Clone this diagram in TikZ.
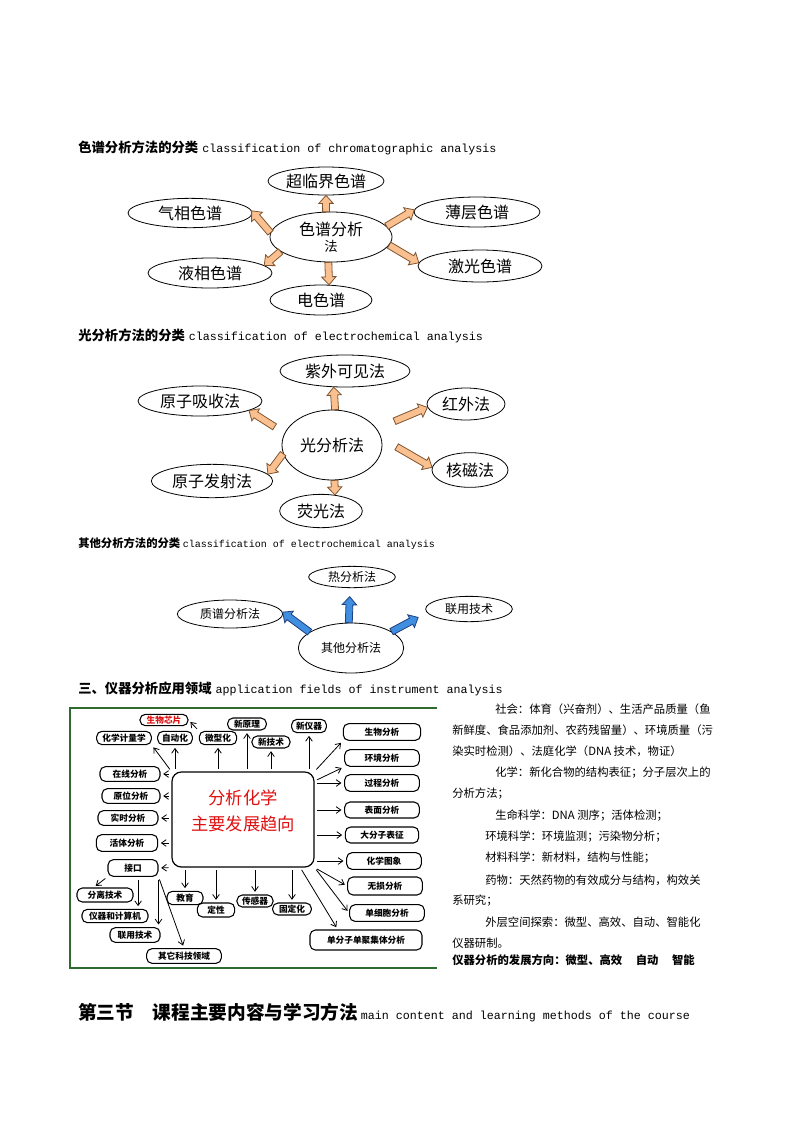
\documentclass[tikz,border=0pt]{standalone}
\usepackage{fontspec}
\setmainfont{Noto Sans CJK SC}
\setmonofont{Liberation Mono}
\usepackage{xcolor}
\usepackage{tikz}
\usetikzlibrary{shapes, arrows.meta, positioning, calc}

\definecolor{peach}{HTML}{FAC08F}
\definecolor{peachedge}{HTML}{7F5530}
\definecolor{skyfill}{HTML}{3F8EDF}
\definecolor{skyedge}{HTML}{1F3F7F}
\definecolor{boxgreen}{HTML}{2F6B2F}
\definecolor{trendred}{HTML}{E01010}

\newcommand\fs[2]{\fontsize{#1}{#2}\selectfont}
% block arrow: [style]{tail}{tip}
\newcommand\blockarrow[3][]{%
  \coordinate (ba-t) at (#2);
  \coordinate (ba-h) at (#3);
  \coordinate (ba-b) at ($(ba-h)!6pt!(ba-t)$);
  \filldraw[line width=0.6pt, #1] ($(ba-t)!2.6pt!90:(ba-h)$) -- ($(ba-b)!2.6pt!-90:(ba-t)$)
    -- ($(ba-b)!5.4pt!-90:(ba-t)$) -- (ba-h) -- ($(ba-b)!5.4pt!90:(ba-t)$)
    -- ($(ba-b)!2.6pt!90:(ba-t)$) -- ($(ba-t)!2.6pt!-90:(ba-h)$) -- cycle;}

\begin{document}
\begin{tikzpicture}[x=0.75pt, y=-0.75pt,
    oval/.style={ellipse, draw, line width=0.6pt, inner sep=0pt, font=\fs{12}{14}},
    smalloval/.style={oval, font=\fs{9}{11}},
    warm/.style={fill=peach, draw=peachedge},
    cool/.style={fill=skyfill, draw=skyedge},
    heading/.style={anchor=west, inner sep=0pt, font=\bfseries\fs{10}{12}},
    tag/.style 2 args={draw, rounded corners=4pt, line width=0.8pt, inner sep=1pt,
        minimum width=#1pt, minimum height=#2pt, font=\bfseries\fs{6.5}{7}},
    trend/.style={-{Straight Barb[length=3.5pt,width=5pt]}, line width=0.6pt,
        shorten <=2pt, shorten >=2pt},
    note/.style={anchor=west, inner sep=0pt, font=\fs{8.5}{10}}]
\useasboundingbox (0,0) rectangle (793,1122);

% Headings
\node[heading] (h1) at (78,148) {色谱分析方法的分类\hspace{3pt}{\mdseries\ttfamily\fs{8.75}{10}classification of chromatographic analysis}};
\node[heading] (h2) at (78,336) {光分析方法的分类\hspace{3pt}{\mdseries\ttfamily\fs{8.75}{10}classification of electrochemical analysis}};
\node[heading, font=\bfseries\fs{8.5}{10}] (h3) at (78,544) {其他分析方法的分类\hspace{2pt}{\mdseries\ttfamily\fs{7.5}{9}classification of electrochemical analysis}};
\node[heading] (h4) at (78,689) {三、仪器分析应用领域\hspace{3pt}{\mdseries\ttfamily\fs{8.75}{10}application fields of instrument analysis}};
\node[heading, font=\bfseries\fs{14}{16}] (h5) at (78,1013) {第三节\hspace{1em}课程主要内容与学习方法\hspace{2pt}{\mdseries\ttfamily\fs{8.75}{10}main content and learning methods of the course}};

% Chromatography
\node[oval, minimum width=87pt, minimum height=21pt] (clj) at (326,181) {超临界色谱};
\node[oval, minimum width=93pt, minimum height=22pt] (qx) at (190,213) {气相色谱};
\node[oval, minimum width=91.5pt, minimum height=37.5pt, align=center] (sp) at (331,237) {色谱分析\\[-2pt]{\fs{10}{12}法}};
\node[oval, minimum width=94.5pt, minimum height=22.5pt] (bc) at (477,212) {薄层色谱};
\node[oval, minimum width=93pt, minimum height=22.5pt] (yx) at (210,273) {液相色谱};
\node[oval, minimum width=93pt, minimum height=24pt] (jg) at (480,266) {激光色谱};
\node[oval, minimum width=76.5pt, minimum height=22.5pt] (dsp) at (321,300) {电色谱};
\blockarrow[warm]{sp.101}{clj.south}
\blockarrow[warm]{sp.176}{qx.2}
\blockarrow[warm]{sp.11}{bc.178}
\blockarrow[warm]{sp.196}{yx.8}
\blockarrow[warm]{sp.-8}{jg.177}
\blockarrow[warm]{sp.-96}{dsp.62}

% Optical
\node[oval, minimum width=97.5pt, minimum height=24pt] (zw) at (345,371) {紫外可见法};
\node[oval, minimum width=93pt, minimum height=22.5pt] (yzxs) at (200,401) {原子吸收法};
\node[oval, minimum width=75pt, minimum height=52.5pt] (gfx) at (332,445) {光分析法};
\node[oval, minimum width=58.5pt, minimum height=24pt] (hw) at (466,404) {红外法};
\node[oval, minimum width=57pt, minimum height=26pt] (hc) at (470,470) {核磁法};
\node[oval, minimum width=91pt, minimum height=25pt] (yzfs) at (212,481) {原子发射法};
\node[oval, minimum width=62pt, minimum height=25pt] (yg) at (321,511) {荧光法};
\blockarrow[warm]{gfx.85}{zw.-125}
\blockarrow[warm]{$(gfx.166)!.28!(yzxs.-11)$}{yzxs.-11}
\blockarrow[warm]{$(gfx.20)!.35!(hw.185)$}{hw.185}
\blockarrow[warm]{$(gfx.8)!.3!(hc.176)$}{hc.176}
\blockarrow[warm]{gfx.190}{yzfs.7}
\blockarrow[warm]{gfx.-86}{yg.49}

% Other methods
\node[smalloval, minimum width=65pt, minimum height=16pt] (rfx) at (352,577) {热分析法};
\node[smalloval, minimum width=79pt, minimum height=21pt] (zp) at (230,614) {质谱分析法};
\node[smalloval, minimum width=65pt, minimum height=19pt] (ly) at (469,609) {联用技术};
\node[smalloval, minimum width=79pt, minimum height=37.5pt] (qt) at (351,648) {其他分析法};
\blockarrow[cool]{qt.95}{$(rfx.-100)!.25!(qt.95)$}
\blockarrow[cool]{qt.159}{zp.2}
\blockarrow[cool]{qt.22}{$(ly.185)!.25!(qt.22)$}

% Application fields
\draw[boxgreen, line width=0.8pt] (437,708) -- (70,708) -- (70,968) -- (437,968);
\node[draw, rounded corners=7pt, line width=0.9pt, minimum width=106.5pt, minimum height=71.25pt,
    inner sep=0pt, align=center, text=trendred, font=\fs{13}{20}] (core) at (243,819.5) {分析化学\\主要发展趋向\\[-6pt]};
\node[tag={36}{8.5}, text=trendred] (swxp) at (164,720) {生物芯片};
\node[tag={41}{10}] (hx) at (124,738) {化学计量学};
\node[tag={26}{10}] (zd) at (175,738) {自动化};
\node[tag={28}{10}] (wx) at (218,738) {微型化};
\node[tag={29}{9}] (syl) at (247,724) {新原理};
\node[tag={28.5}{9}] (sjs) at (271,742) {新技术};
\node[tag={26}{10}] (syq) at (309,726) {新仪器};
\node[tag={45}{11}] (zx) at (130,774) {在线分析};
\node[tag={43.5}{11}] (yw) at (131,796) {原位分析};
\node[tag={45}{11}] (ss) at (128,818) {实时分析};
\node[tag={46}{12.5}] (ht) at (127,843) {活体分析};
\node[tag={37.5}{12.5}] (jk) at (133,868) {接口};
\node[tag={42}{10.5}] (fl) at (105,895) {分离技术};
\node[tag={49.5}{10}] (yq) at (115,916) {仪器和计算机};
\node[tag={37.5}{11}] (lyjs) at (135,935) {联用技术};
\node[tag={56}{11}] (qtly) at (184,956) {其它科技领域};
\node[tag={27}{10}] (jy) at (185,898) {教育};
\node[tag={28}{10.5}] (dx) at (216,910) {定性};
\node[tag={27}{9}] (cg) at (255,901) {传感器};
\node[tag={29}{9}] (gd) at (292,909) {固定化};
\node[tag={58}{12.5}] (swfx) at (382,732) {生物分析};
\node[tag={56}{12.5}] (hjfx) at (382,758) {环境分析};
\node[tag={56}{12.5}] (gcfx) at (382,783) {过程分析};
\node[tag={56}{12}] (bmfx) at (382,810) {表面分析};
\node[tag={55}{12}] (dfz) at (382,835) {大分子表征};
\node[tag={56}{12.5}] (hxtx) at (384,861) {化学图象};
\node[tag={56}{13.5}] (wsfx) at (385,886) {无损分析};
\node[tag={56}{12.5}] (sxb) at (387,913) {单细胞分析};
\node[tag={84}{15}] (dfzj) at (366,940) {单分子单聚集体分析};
\coordinate (jkfoot) at ($(jk.south)!.2!(jk.south east)$);
% trends out of the core box
\draw[trend] (core.north west) -- (hx.south east);
\draw[trend] (wx.north west) -- (swxp.east);
\draw[trend] (zd |- core.north) -- (zd.south);
\draw[trend] (wx |- core.north) -- (wx.south);
\draw[trend] (syl |- core.north) -- (syl.south);
\draw[trend] (sjs |- core.north) -- (sjs.south);
\draw[trend] (syq |- core.north) -- (syq.south);
\draw[trend] (core.west |- zx) -- (zx.east);
\draw[trend] (core.west |- yw) -- (yw.east);
\draw[trend] (core.west |- ss) -- (ss.east);
\draw[trend] (core.west |- ht) -- (ht.east);
\draw[trend] (core.south west) -- (jk.east);
\draw[trend] (jk.south west) -- ($(fl.north)!.4!(fl.north west)$);
\draw[trend] (jkfoot) -- (jkfoot |- yq.north);
\draw[trend] (jk.south east) -- (jk.south east |- lyjs.north);
\draw[trend] (jk.south east) -- (qtly.north);
\draw[trend] (jy |- core.south) -- (jy.north);
\draw[trend] (dx |- core.south) -- (dx.north);
\draw[trend] (cg |- core.south) -- (cg.north);
\draw[trend] (gd |- core.south) -- (gd.north);
\draw[trend] ($(core.south)!.8!(core.south east)$) -- ($(dfzj.north west)!.25!(dfzj.north east)$);
\draw[trend] (core.south east) -- (sxb.west);
\draw[trend] (core.south east) -- (wsfx.west);
\draw[trend] (core.east |- hxtx) -- (hxtx.west);
\draw[trend] (core.east |- dfz) -- (dfz.west);
\draw[trend] (core.east |- bmfx) -- (bmfx.west);
\draw[trend] (core.east |- gcfx) -- (gcfx.west);
\draw[trend] ($(core.north east)!.1!(core.south east)$) -- (hjfx.south west);
\draw[trend] (core.north east) -- (swfx.south west);

% Notes beside the figure
\foreach \x/\y/\t [count=\i] in {
    495/709/{社会：体育（兴奋剂）、生活产品质量（鱼},
    452/730/{新鲜度、食品添加剂、农药残留量）、环境质量（污},
    452/751/{染实时检测）、法庭化学（DNA 技术，物证）},
    495/773/{化学：新化合物的结构表征；分子层次上的},
    452/794/{分析方法；},
    495/816/{生命科学：DNA 测序；活体检测；},
    485/837/{环境科学：环境监测；污染物分析；},
    485/858/{材料科学：新材料，结构与性能；},
    485/880/{药物：天然药物的有效成分与结构，构效关},
    452/901/{系研究；},
    485/922/{外层空间探索：微型、高效、自动、智能化},
    452/943/{仪器研制。}}
  \node[note] (line\i) at (\x,\y) {\t};
\node[note, font=\bfseries\fs{8.5}{10}] (trendline) at (452,960) {仪器分析的发展方向：微型、高效\hspace{1.2em}自动\hspace{1.2em}智能};
\end{tikzpicture}
\end{document}
